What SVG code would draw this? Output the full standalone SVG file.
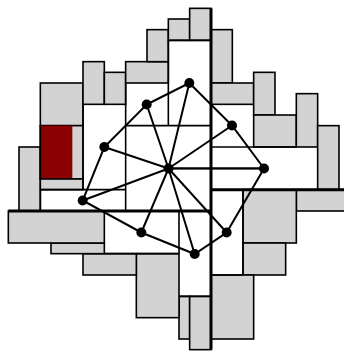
<svg xmlns="http://www.w3.org/2000/svg" width="344" height="352" viewBox="0 0 344 352">
<style>
.g{fill:#d3d3d3;stroke:#000;stroke-width:1.6}
.r{fill:#8b0000}
.l{stroke:#000;stroke-width:1.6;fill:none}
.t{stroke:#000;stroke-width:3;fill:none}
.e{stroke:#000;stroke-width:2;fill:none}
.n{fill:#000}
</style>
<rect width="344" height="352" fill="#fff"/>
<g id="rooms" transform="translate(0.33 0.33)">
<rect class="g" x="18.67" y="146.67" width="21.33" height="64"/>
<rect class="g" x="40" y="82.67" width="42.67" height="42.67"/>
<rect class="g" x="40" y="125.33" width="42.67" height="53.33"/>
<rect class="r" x="40" y="125.33" width="32" height="53.33"/>
<path class="l" d="M40 125.33V178.67"/>
<rect class="g" x="40" y="178.67" width="42.67" height="10.67"/>
<rect class="g" x="82.67" y="61.33" width="21.33" height="42.67"/>
<rect class="g" x="104" y="72" width="21.33" height="32"/>
<rect class="g" x="125.33" y="61.33" width="42.67" height="21.33"/>
<rect class="g" x="146.67" y="29.33" width="21.33" height="32"/>
<rect class="g" x="168" y="18.67" width="21.33" height="21.33"/>
<rect class="g" x="189.33" y="8" width="21.33" height="32"/>
<rect class="g" x="210.67" y="29.33" width="21.33" height="53.33"/>
<rect class="g" x="210.67" y="82.67" width="42.67" height="21.33"/>
<rect class="g" x="253.33" y="72" width="21.33" height="42.67"/>
<rect class="g" x="253.33" y="114.67" width="42.67" height="32"/>
<rect class="g" x="296" y="93.33" width="21.33" height="53.33"/>
<rect class="g" x="317.33" y="125.33" width="21.33" height="64"/>
<rect class="g" x="296" y="189.33" width="53.33" height="21.33"/>
<rect class="g" x="242.67" y="189.33" width="53.33" height="53.33"/>
<rect class="g" x="242.67" y="242.67" width="42.67" height="32"/>
<rect class="g" x="210.67" y="274.67" width="42.67" height="64"/>
<rect class="g" x="178.67" y="296" width="10.67" height="42.67"/>
<rect class="g" x="189.33" y="296" width="21.33" height="53.33"/>
<rect class="g" x="136" y="253.33" width="42.67" height="64"/>
<rect class="g" x="82.67" y="253.33" width="53.33" height="21.33"/>
<rect class="g" x="50.67" y="242.67" width="53.33" height="10.67"/>
<rect class="g" x="8" y="210.67" width="96" height="32"/>
<path class="l" d="M82.67 104V189.33M40 189.33H125.33M40 189.33V210.67M125.33 82.67V210.67M125.33 125.33H210.67M168 40V125.33M168 40H210.67M168 168H264M210.67 146.67H296M178.67 210.67V253.33M104 253.33H178.67M242.67 189.33V274.67M210.67 274.67H242.67M178.67 296H210.67"/>
<path class="t" d="M210.67 8V349.33M8 210.67H210.67M210.67 189.33H344"/>
</g>
<g id="connectors">
<path class="e" d="M146.67 104.5L189.33 83L232 125.5L264 168.5L226.67 232.5L194.67 254L141.33 232.5L82.67 200.5L104.33 147Z"/>
<path class="e" d="M168.5 168.5L146.67 104.5M168.5 168.5L189.33 83M168.5 168.5L232 125.5M168.5 168.5L264 168.5M168.5 168.5L226.67 232.5M168.5 168.5L194.67 254M168.5 168.5L141.33 232.5M168.5 168.5L82.67 200.5M168.5 168.5L104.33 147"/>
</g>
<g id="n0"><circle class="n" cx="168.5" cy="168.5" r="5"/></g>
<g id="n1"><circle class="n" cx="146.67" cy="104.5" r="5"/></g>
<g id="n2"><circle class="n" cx="189.33" cy="83" r="5"/></g>
<g id="n3"><circle class="n" cx="232" cy="125.5" r="5"/></g>
<g id="n4"><circle class="n" cx="264" cy="168.5" r="5"/></g>
<g id="n5"><circle class="n" cx="226.67" cy="232.5" r="5"/></g>
<g id="n6"><circle class="n" cx="194.67" cy="254" r="5"/></g>
<g id="n7"><circle class="n" cx="141.33" cy="232.5" r="5"/></g>
<g id="n8"><circle class="n" cx="82.67" cy="200.5" r="5"/></g>
<g id="n9"><circle class="n" cx="104.33" cy="147" r="5"/></g>
</svg>
